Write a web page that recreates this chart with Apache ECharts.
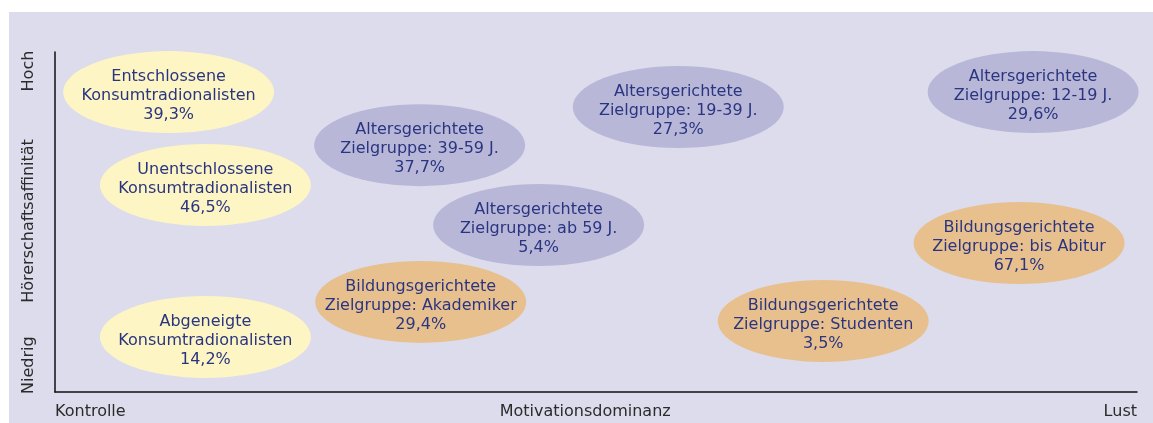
<!DOCTYPE html>
<html>
<head>
<meta charset="utf-8">
<script src="https://cdn.jsdelivr.net/npm/echarts@6/dist/echarts.min.js"></script>
<style>
  html, body { margin: 0; padding: 0; background: #ffffff; }
  #panel { position: absolute; left: 9px; top: 12px; width: 1144px; height: 411px; }
</style>
</head>
<body>
<div id="panel"></div>
<script>
// Zielgruppen-Positionierung
var segmentNames = [
  "Entschlossene\nKonsumtradionalisten",
  "Unentschlossene\nKonsumtradionalisten",
  "Abgeneigte\nKonsumtradionalisten",
  "Altersgerichtete\nZielgruppe: 39-59 J.",
  "Altersgerichtete\nZielgruppe: ab 59 J.",
  "Altersgerichtete\nZielgruppe: 19-39 J.",
  "Altersgerichtete\nZielgruppe: 12-19 J.",
  "Bildungsgerichtete\nZielgruppe: bis Abitur",
  "Bildungsgerichtete\nZielgruppe: Studenten",
  "Bildungsgerichtete\nZielgruppe: Akademiker"
];
var shares = ["39,3%", "46,5%", "14,2%", "37,7%", "5,4%", "27,3%", "29,6%", "67,1%", "3,5%", "29,4%"];
// Motivationsdominanz (0 = Kontrolle, 100 = Lust)
var motivation = [10.5, 13.9, 13.9, 33.7, 44.7, 57.6, 90.4, 89.1, 71.0, 33.8];
// Hörerschaftsaffinität (0 = Niedrig, 100 = Hoch)
var affinity = [88.2, 60.9, 16.2, 72.6, 49.1, 83.8, 88.2, 43.8, 20.9, 26.5];
var groups = ["tradition", "tradition", "tradition", "alter", "alter", "alter", "alter", "bildung", "bildung", "bildung"];

var xTickValues = [0, 49, 100];
var xTickLabels = ["Kontrolle", "Motivationsdominanz", "Lust"];
var yTickValues = [7.9, 50.3, 94.4];
var yTickLabels = ["Niedrig", "Hörerschaftsaffinität", "Hoch"];

var groupColors = {
  tradition: "#fdf5c4",
  alter: "#b9b7d8",
  bildung: "#e8c08e"
};

var font = "DejaVu Sans, Verdana, sans-serif";

var datas = [];
for (var i = 0; i < segmentNames.length; i++) {
  datas.push({
    name: segmentNames[i] + "\n" + shares[i],
    value: [motivation[i], affinity[i]],
    itemStyle: { color: groupColors[groups[i]], opacity: 1 }
  });
}

function tickLabel(values, labels) {
  return function (v) {
    for (var k = 0; k < values.length; k++) {
      if (Math.abs(values[k] - v) < 0.01) return labels[k];
    }
    return "";
  };
}

var chart = echarts.init(document.getElementById("panel"));
var option = {
  animation: false,
  backgroundColor: "#dcdcec",
  grid: { left: 46, right: 16, top: 40, bottom: 31 },
  xAxis: {
    type: "value",
    min: 0,
    max: 100,
    splitLine: { show: false },
    axisTick: { show: false },
    axisLine: { show: true, onZero: false, lineStyle: { color: "#111111", width: 1.5 } },
    axisLabel: {
      customValues: xTickValues,
      formatter: tickLabel(xTickValues, xTickLabels),
      alignMinLabel: "left",
      alignMaxLabel: "right",
      margin: 12,
      color: "#2b2b2b",
      fontSize: 16,
      fontFamily: font
    }
  },
  yAxis: {
    type: "value",
    min: 0,
    max: 100,
    splitLine: { show: false },
    axisTick: { show: false },
    axisLine: { show: true, onZero: false, lineStyle: { color: "#111111", width: 1.5 } },
    axisLabel: {
      customValues: yTickValues,
      formatter: tickLabel(yTickValues, yTickLabels),
      rotate: 90,
      margin: 18,
      color: "#2b2b2b",
      fontSize: 16,
      fontFamily: font
    }
  },
  series: [
    {
      type: "scatter",
      symbol: "circle",
      symbolSize: [211, 82],
      silent: true,
      emphasis: { disabled: true },
      itemStyle: { opacity: 1 },
      label: {
        show: true,
        position: "inside",
        formatter: "{b}",
        color: "#2a3580",
        fontSize: 16,
        lineHeight: 19,
        fontFamily: font,
        offset: [0, 4]
      },
      data: datas
    }
  ]
};
chart.setOption(option);
window.onresize = function () {
  chart.resize();
};
</script>
</body>
</html>
